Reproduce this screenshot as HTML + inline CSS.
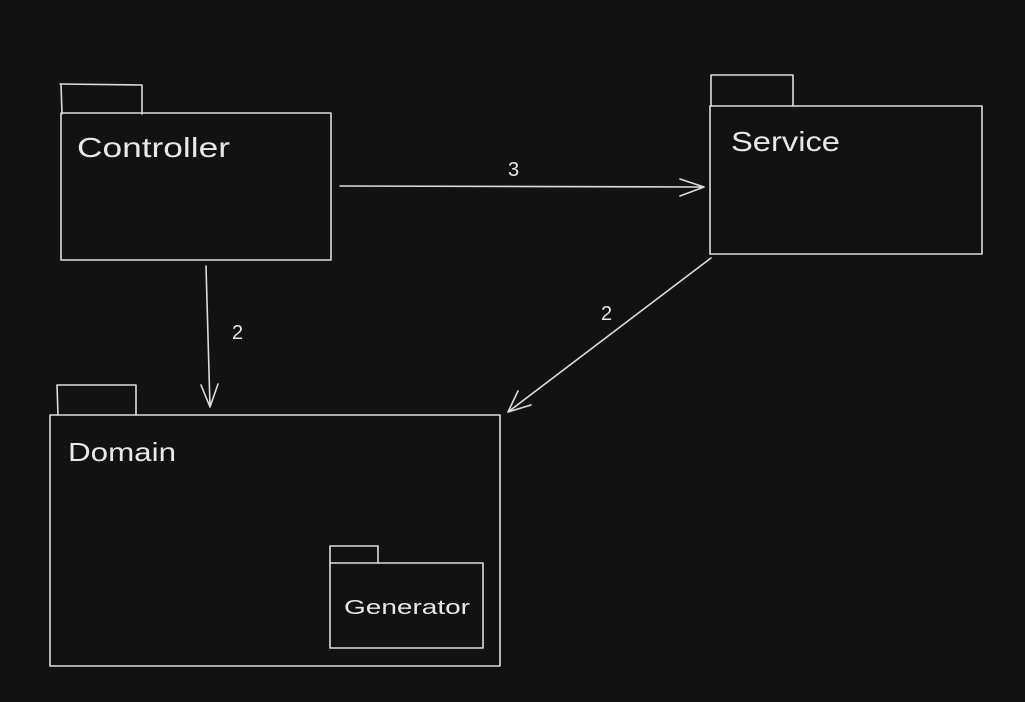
<!DOCTYPE html>
<html><head><meta charset="utf-8"><style>
html,body{margin:0;padding:0;background:#121212;width:1025px;height:702px;overflow:hidden}
svg{display:block}
text{font-family:"Liberation Sans",sans-serif;fill:#e8e8e8}
</style></head><body>
<svg width="1025" height="702" viewBox="0 0 1025 702" xmlns="http://www.w3.org/2000/svg">
<g fill="none" stroke="#dcdcdc" stroke-width="1.6" stroke-linecap="round" stroke-linejoin="round">
<path d="M60 84 L142 85 L142 114 M61 84 L62 114"/>
<rect x="61" y="113" width="270" height="147"/>
<path d="M711 75 L793 75 L793 106 M711 75 L711 106"/>
<rect x="710" y="106" width="272" height="148"/>
<path d="M57 385 L136 385 L136 415 M57 385 L58 415"/>
<rect x="50" y="415" width="450" height="251"/>
<path d="M330 546 L378 546 L378 563 M330 546 L330 563"/>
<rect x="330" y="563" width="153" height="85"/>
<path d="M340 186 L704 187 M680 179 L704 187 L680 196"/>
<path d="M206 266 L210 407 M201 385 L210 407 L218 384"/>
<path d="M711 258 L508 412 M518 391 L508 412 L531 405"/>
</g>
<text x="77" y="157" font-size="28" textLength="153" lengthAdjust="spacingAndGlyphs">Controller</text>
<text x="731" y="151" font-size="28" textLength="109" lengthAdjust="spacingAndGlyphs">Service</text>
<text x="68" y="461" font-size="26" textLength="108" lengthAdjust="spacingAndGlyphs">Domain</text>
<text x="344" y="614" font-size="20" textLength="126" lengthAdjust="spacingAndGlyphs">Generator</text>
<text x="508" y="176" font-size="20">3</text>
<text x="232" y="339" font-size="20">2</text>
<text x="601" y="320" font-size="20">2</text>
</svg>
</body></html>
